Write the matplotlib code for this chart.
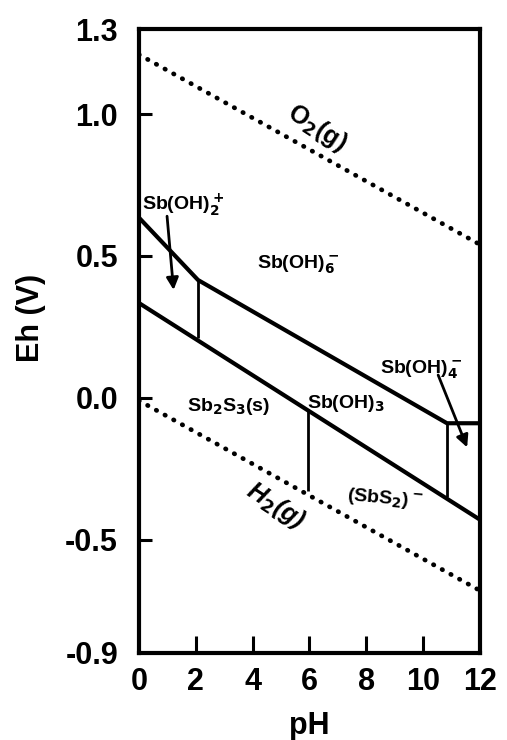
import matplotlib
matplotlib.use("Agg")
import matplotlib.pyplot as plt

# ---- data ----
ph_ticks = [0, 2, 4, 6, 8, 10, 12]
eh_ticks = [-0.9, -0.5, 0.0, 0.5, 1.0, 1.3]
eh_tick_labels = ["-0.9", "-0.5", "0.0", "0.5", "1.0", "1.3"]

o2_ph = [0, 12]
o2_eh = [1.21, 0.54]
h2_ph = [0, 12]
h2_eh = [-0.01, -0.68]

upper_ph = [0, 2.08, 10.84, 12]
upper_eh = [0.635, 0.415, -0.09, -0.09]
lower_ph = [0, 12]
lower_eh = [0.334, -0.43]

vert_ph = [2.08, 5.95, 10.84]
vert_eh_low = [0.21, -0.33, -0.35]
vert_eh_high = [0.415, -0.04, -0.09]

plt.rcParams['font.family'] = ['Liberation Sans', 'DejaVu Sans']
plt.rcParams['font.weight'] = 'bold'
plt.rcParams['mathtext.default'] = 'bf'

fig = plt.figure(figsize=(5.07, 7.40), dpi=100)
ax = fig.add_axes([0.274, 0.1176, 0.6726, 0.8432])
ax.set_xlim(0, 12)
ax.set_ylim(-0.9, 1.3)

dot = dict(color='black', lw=3.4, linestyle=(0, (0.1, 2.0)), dash_capstyle='round')
ax.plot(o2_ph, o2_eh, **dot)
ax.plot(h2_ph, h2_eh, **dot)

ax.plot(upper_ph, upper_eh, color='black', lw=3.0, solid_joinstyle='miter')
ax.plot(lower_ph, lower_eh, color='black', lw=3.0)
ax.vlines(vert_ph, vert_eh_low, vert_eh_high, color='black', lw=2.0)

# arrows
ax.annotate("", xy=(1.22, 0.38), xytext=(0.99, 0.64),
            arrowprops=dict(arrowstyle='-|>', color='black', lw=2.0,
                            mutation_scale=18, shrinkA=0, shrinkB=0))
ax.annotate("", xy=(11.55, -0.175), xytext=(10.53, 0.08),
            arrowprops=dict(arrowstyle='-|>', color='black', lw=2.0,
                            mutation_scale=18, shrinkA=0, shrinkB=0))

lab = dict(fontsize=14, fontweight='bold', color='black')
ax.text(0.1, 0.68, r"Sb(OH)$_2^+$", ha='left', va='center', **lab)
ax.text(5.6, 0.468, r"Sb(OH)$_6^-$", ha='center', va='center', **lab)
ax.text(9.93, 0.10, r"Sb(OH)$_4^-$", ha='center', va='center', **lab)
ax.text(3.17, -0.03, r"Sb$_2$S$_3$(s)", ha='center', va='center', **lab)
ax.text(7.29, -0.02, r"Sb(OH)$_3$", ha='center', va='center', **lab)
ax.text(8.66, -0.36, r"(SbS$_2$)$^-$", ha='center', va='center',
        rotation=-5, **lab)

ax.text(6.27, 0.95, r"O$_2$(g)", ha='center', va='center', fontsize=18,
        fontweight='bold', rotation=-33)
ax.text(4.8, -0.38, r"H$_2$(g)", ha='center', va='center', fontsize=18,
        fontweight='bold', rotation=-33, style='italic')

for s in ax.spines.values():
    s.set_linewidth(3)

ax.set_xticks(ph_ticks)
ax.set_xticklabels([str(t) for t in ph_ticks])
ax.set_yticks(eh_ticks)
ax.set_yticklabels(eh_tick_labels)
ax.tick_params(axis='x', direction='in', length=12, width=2.2, pad=10, labelsize=22)
ax.tick_params(axis='y', direction='in', length=9, width=2.2, pad=15, labelsize=22)
xt = ax.xaxis.get_major_ticks()
xt[0].tick1line.set_visible(False)
xt[-1].tick1line.set_visible(False)
yt = ax.yaxis.get_major_ticks()
yt[0].tick1line.set_visible(False)
yt[-1].tick1line.set_visible(False)

for l in ax.get_xticklabels() + ax.get_yticklabels():
    l.set_fontweight('bold')

ax.set_xlabel("pH", fontsize=22, fontweight='bold', labelpad=10)
ax.set_ylabel("Eh (V)", fontsize=22, fontweight='bold')
ax.yaxis.set_label_coords(-0.273, 0.537)

fig.savefig("out.png", dpi=100)
